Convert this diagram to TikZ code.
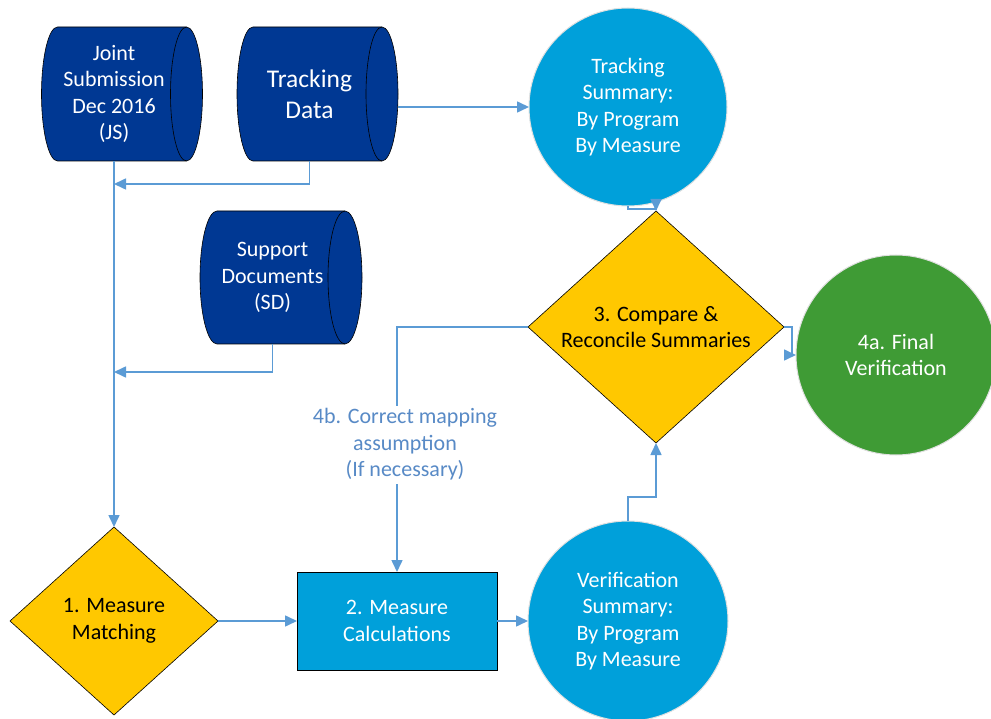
\documentclass[tikz,border=0pt]{standalone}
\usepackage{fontspec}
\setmainfont{Carlito}
\usetikzlibrary{shapes.geometric,arrows.meta,calc,backgrounds}
\definecolor{navy}{RGB}{0,56,147}
\definecolor{skyb}{RGB}{0,160,218}
\definecolor{gold}{RGB}{255,200,0}
\definecolor{leaf}{RGB}{63,155,53}
\definecolor{linkc}{RGB}{91,155,213}
\definecolor{lblc}{RGB}{88,138,198}
\newcommand\cylshape[3]{%
  \filldraw[fill=navy,draw=black,line width=0.6pt]
     ([xshift=#2]#1.north west) -- (#1.north east)
     arc[start angle=90, end angle=-90, x radius=#2, y radius=#3]
     -- ([xshift=#2]#1.south west)
     arc[start angle=270, end angle=90, x radius=#2, y radius=#3] -- cycle;
  \draw[black,line width=0.6pt] (#1.north east)
     arc[start angle=90, end angle=270, x radius=#2, y radius=#3];
}
\tikzset{
  base/.style={font=\fontsize{22}{26.5}\selectfont, align=center, outer sep=0pt, inner sep=0pt},
  cylnode/.style={base, text=white, minimum width=145pt, minimum height=134pt},
  disk/.style={base, circle, text=white, minimum size=200pt, draw=black!12, line width=1pt},
  decide/.style={base, diamond, fill=gold, draw=black, line width=0.6pt},
  procbox/.style={base, rectangle, fill=skyb, draw=black, line width=0.6pt, text=white, minimum width=200pt, minimum height=98pt},
  conn/.style={draw=linkc, line width=1.6pt, -{Triangle[length=12pt,width=11pt]}},
  note/.style={base, text=lblc, fill=white, inner sep=3pt}
}
\begin{document}
\begin{tikzpicture}[x=1pt,y=-1pt]
\useasboundingbox (0,0) rectangle (991,719);

% storage cylinders
\node[cylnode] (js) at (114,94) {Joint\\Submission\\Dec 2016\\(JS)};
\node[cylnode, font=\fontsize{25.5}{31}\selectfont] (td) at (309.5,94) {Tracking\\Data};
\node[cylnode, minimum height=133pt] (sd) at (272.5,277.5) {Support\\Documents\\(SD)};
\begin{pgfonlayer}{background}
  \cylshape{js}{16pt}{67pt}
  \cylshape{td}{16pt}{67pt}
  \cylshape{sd}{17pt}{66.5pt}
\end{pgfonlayer}
\coordinate (tdr) at ($(td.east)+(16,0)$);

% circles
\node[disk, fill=skyb, minimum size=198pt] (ts) at (628,107) {Tracking\\Summary:\\By Program\\By Measure};
\node[disk, fill=skyb] (vs) at (628,621) {Verification\\Summary:\\By Program\\By Measure};
\node[disk, fill=leaf] (fv) at (896,355) {4a. Final\\Verification};

% decisions
\node[decide, minimum width=256pt, minimum height=232pt,
      label={[base]center:3. Compare \&\\Reconcile Summaries}] (d3) at (656,327) {};
\node[decide, minimum width=208pt, minimum height=188pt,
      label={[base]center:1. Measure\\Matching}] (d1) at (114,621) {};

% process box
\node[procbox] (box) at (397,621) {2. Measure\\Calculations};

% connectors
\draw[conn] (tdr |- ts.west) -- (ts.west);
\draw[conn] (td.south) |- ($(js.south)+(0,23)$);
\draw[conn] (sd.south) |- ($(js.south)+(0,211)$);
\draw[conn] (js.south) -- (d1.north);
\draw[conn] (d1.east) -- (box.west);
\draw[conn] (box.east) -- (vs.west);
\draw[conn] (vs.north) -- ++(0,-24) -| (d3.south);
\draw[conn] (ts.south) -- ++(0,3) -| (d3.north);
\draw[conn] (d3.east) -- ++(8,0) |- (fv.west);
\draw[conn] (d3.west) -| node[note, pos=0.74, xshift=8pt] {4b. Correct mapping\\assumption\\(If necessary)} (box.north);
\end{tikzpicture}
\end{document}
